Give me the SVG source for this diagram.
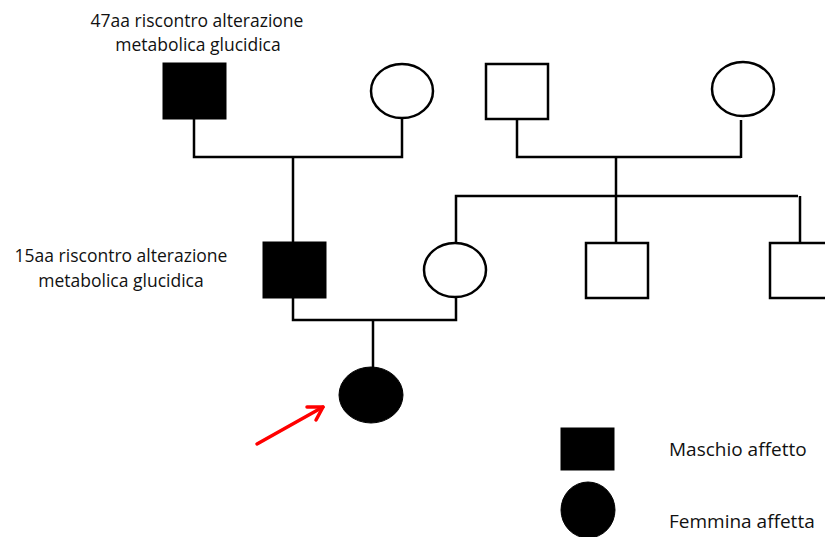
<svg xmlns="http://www.w3.org/2000/svg" width="825" height="537" viewBox="0 0 825 537">
<style>
.o{fill:#fff;stroke:#000;stroke-width:2.5}
.f{fill:#000;stroke:#000;stroke-width:1}
.l{fill:none;stroke:#000;stroke-width:2.5}
.a{fill:none;stroke:#f00;stroke-width:3.5;stroke-linecap:round;stroke-linejoin:round}
text{font-family:"Open Sans","Liberation Sans",sans-serif;font-size:17.5px;fill:#111}
.lg{font-size:19px}
</style>
<rect width="825" height="537" fill="#fff"/>
<g id="connectors">
<path class="l" d="M194,119 V157 H402 V118"/>
<path class="l" d="M293,157 V243"/>
<path class="l" d="M517,119 V157 H741"/>
<path class="l" d="M741,120 V158"/>
<path class="l" d="M616,157 V243"/>
<path class="l" d="M456,243 V196 H798"/>
<path class="l" d="M800,196 V243"/>
<path class="l" d="M293,298 V320 H456 V297"/>
<path class="l" d="M373,320 V368"/>
<path class="a" d="M257,444 L323,407"/>
<path class="a" d="M307,407 L323,407 L316,420"/>
</g>
<g id="grandfather"><rect class="f" x="163" y="63" width="63" height="56"/></g>
<g id="grandmother"><ellipse class="o" cx="402" cy="91" rx="31" ry="27"/></g>
<g id="grandfather2"><rect class="o" x="486" y="64" width="62" height="55"/></g>
<g id="grandmother2"><ellipse class="o" cx="743" cy="89" rx="31" ry="27"/></g>
<g id="father"><rect class="f" x="263" y="242" width="63" height="56"/></g>
<g id="mother"><ellipse class="o" cx="455" cy="270" rx="31" ry="27"/></g>
<g id="uncle1"><rect class="o" x="586" y="243" width="62" height="55"/></g>
<g id="uncle2"><rect class="o" x="770" y="243" width="62" height="55"/></g>
<g id="proband"><ellipse class="f" cx="371" cy="395" rx="32" ry="28"/></g>
<g id="label-grandfather">
<text x="197" y="27" text-anchor="middle">47aa riscontro alterazione</text>
<text x="198" y="51" text-anchor="middle">metabolica glucidica</text>
</g>
<g id="label-father">
<text x="121" y="262" text-anchor="middle">15aa riscontro alterazione</text>
<text x="121" y="287" text-anchor="middle">metabolica glucidica</text>
</g>
<g id="legend">
<rect class="f" x="561" y="428" width="53" height="42"/>
<ellipse class="f" cx="588" cy="510" rx="27" ry="28"/>
<text class="lg" x="669" y="456">Maschio affetto</text>
<text class="lg" x="669" y="528">Femmina affetta</text>
</g>
</svg>
